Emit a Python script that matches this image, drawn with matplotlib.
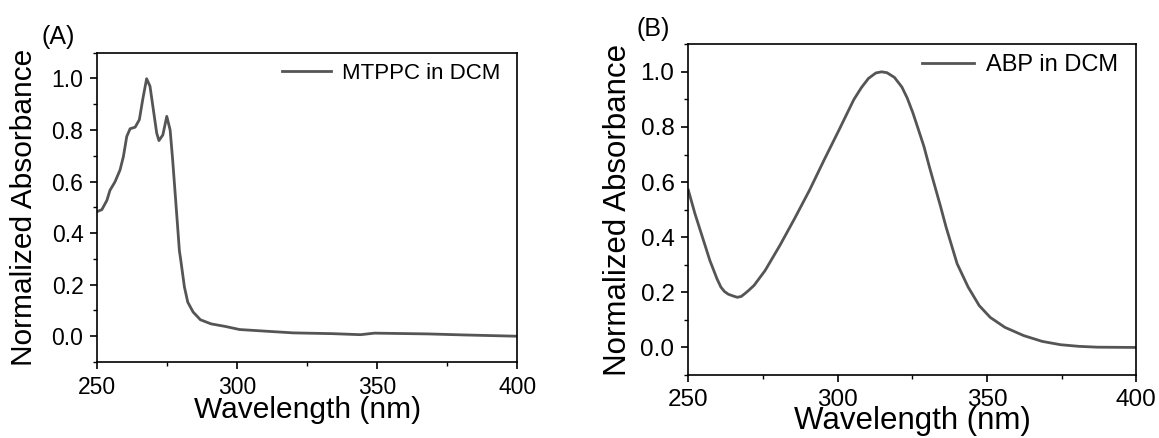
import numpy as np
import matplotlib.pyplot as plt
from matplotlib.ticker import MultipleLocator

plt.rcParams['font.family'] = ['Liberation Sans', 'DejaVu Sans']

# MTPPC in DCM (panel A)
wl_a = [250, 251.6, 253.4, 254.5, 256.3, 258.1, 259.3, 260.5, 261.7, 263.5,
        265, 266.2, 267.6, 268.8, 270, 271.2, 272, 273.4, 274.8, 276, 276.9,
        277.8, 278.6, 279.3, 279.8, 281.1, 282.3, 284.2, 286.8, 290.6, 295.7,
        300.8, 311, 320, 334, 344, 349, 368, 381, 400]
abs_a = [0.484, 0.491, 0.527, 0.566, 0.599, 0.645, 0.697, 0.775, 0.805, 0.811,
         0.84, 0.918, 0.999, 0.97, 0.879, 0.788, 0.759, 0.781, 0.853, 0.80,
         0.684, 0.553, 0.436, 0.332, 0.295, 0.191, 0.132, 0.094, 0.064,
         0.048, 0.038, 0.026, 0.019, 0.013, 0.01, 0.006, 0.012, 0.009,
         0.005, 0.0]

# ABP in DCM (panel B)
wl_b = [250, 252.2, 254.7, 257.2, 259.6, 260.9, 262.1, 263.4, 265.2, 266.4,
        267.7, 268.9, 270.2, 272, 275.7, 280.7, 285.6, 290.6, 295.5, 300.5,
        305.4, 307.9, 310.3, 312.8, 314.7, 316.5, 319.0, 321.5, 323.3, 325.2,
        327.0, 328.9, 330.7, 332.6, 334.5, 336.3, 340, 343.7, 347.4, 351.1,
        356, 362.3, 368.5, 374.6, 380.8, 387, 400]
abs_b = [0.571, 0.486, 0.401, 0.316, 0.249, 0.219, 0.203, 0.193, 0.186, 0.182,
         0.185, 0.195, 0.207, 0.225, 0.279, 0.371, 0.468, 0.571, 0.681, 0.79,
         0.899, 0.942, 0.976, 0.996, 1.0, 0.997, 0.980, 0.945, 0.905, 0.851,
         0.792, 0.729, 0.656, 0.583, 0.51, 0.437, 0.304, 0.219, 0.152, 0.109,
         0.073, 0.043, 0.022, 0.01, 0.004, 0.001, 0.0]

line_color = '#555555'

fig = plt.figure(figsize=(11.59, 4.38), dpi=100)
ax_a = fig.add_axes([0.0840, 0.1735, 0.3623, 0.7062])
ax_b = fig.add_axes([0.5939, 0.1438, 0.3865, 0.7551])


def style_axes(ax, tick_fs, label_fs, xlab_y, ylab_x):
    ax.set_xlim(250, 400)
    ax.set_ylim(-0.1, 1.1)
    ax.xaxis.set_major_locator(MultipleLocator(50))
    ax.xaxis.set_minor_locator(MultipleLocator(25))
    ax.yaxis.set_minor_locator(MultipleLocator(0.1))
    ticks = np.arange(0, 1.01, 0.2)
    ax.set_yticks(ticks)
    ax.set_yticklabels([f'{v:.1f}' for v in ticks])
    ax.tick_params(which='major', direction='out', length=5, width=1.2,
                   labelsize=tick_fs, pad=5)
    ax.tick_params(which='minor', direction='out', length=3, width=1.0)
    for s in ax.spines.values():
        s.set_linewidth(1.2)
    ax.set_xlabel('Wavelength (nm)', fontsize=label_fs, va='baseline')
    ax.set_ylabel('Normalized Absorbance', fontsize=label_fs, va='center')
    ax.xaxis.set_label_coords(0.5, xlab_y)
    ax.yaxis.set_label_coords(ylab_x, 0.5)


ax_a.plot(wl_a, abs_a, color=line_color, lw=2.0, label='MTPPC in DCM')
style_axes(ax_a, 16.5, 21.5, -0.181, -0.1745)
ax_a.legend(loc='center right', bbox_to_anchor=(0.4415, 0.8333),
            bbox_transform=fig.transFigure, frameon=False, fontsize=16,
            borderpad=0, handlelength=2.2, handletextpad=0.5)

ax_b.plot(wl_b, abs_b, color=line_color, lw=2.0, label='ABP in DCM')
style_axes(ax_b, 17.5, 22.5, -0.1633, -0.157)
ax_b.legend(loc='center right', bbox_to_anchor=(0.975, 0.8516),
            bbox_transform=fig.transFigure, frameon=False, fontsize=17,
            borderpad=0, handlelength=2.2, handletextpad=0.5)

fig.text(58 / 1159, 1 - 37 / 438, '(A)', fontsize=18, ha='center', va='center')
fig.text(653 / 1159, 1 - 29 / 438, '(B)', fontsize=18, ha='center', va='center')

fig.savefig('out.png', dpi=100)
